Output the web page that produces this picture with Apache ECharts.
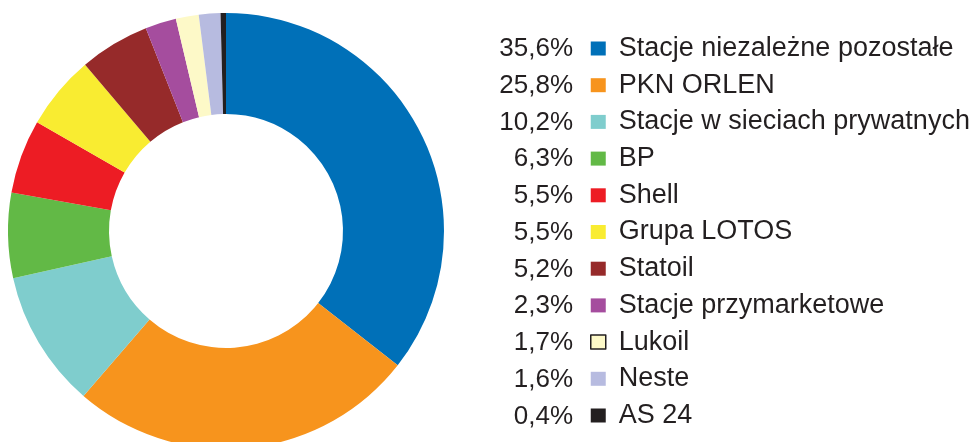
<!DOCTYPE html>
<html>
<head>
<meta charset="utf-8">
<script src="https://cdn.jsdelivr.net/npm/echarts@6/dist/echarts.min.js"></script>
<style>html,body{margin:0;padding:0;background:#fff}#c{width:976px;height:442px}</style>
</head>
<body>
<div id="c"></div>
<script>
const categories = ['Stacje niezależne pozostałe','PKN ORLEN','Stacje w sieciach prywatnych','BP','Shell','Grupa LOTOS','Statoil','Stacje przymarketowe','Lukoil','Neste','AS 24'];
const values = [35.6, 25.8, 10.2, 6.3, 5.5, 5.5, 5.2, 2.3, 1.7, 1.6, 0.4];
const colors = ['#0070b8','#f7941d','#7fcdcd','#62b946','#ed1c24','#f9ec31','#962a2a','#a54d9e','#fdf9c8','#b7bbe0','#231f20'];

const fmt = v => v.toFixed(1).replace('.', ',') + '%';
const pctByName = {};
categories.forEach((n, i) => { pctByName[n] = fmt(values[i]); });

const FONT = '"Liberation Sans", Arial, sans-serif';
const TXT = '#231f20';
const chart = echarts.init(document.getElementById('c'), null, {renderer: 'canvas'});
chart.setOption({
  animation: false,
  color: colors,
  legend: [
    {
      orient: 'vertical',
      left: 590,
      top: 35,
      padding: 0,
      icon: 'rect',
      itemWidth: 15,
      itemHeight: 14,
      itemGap: 9.7,
      selectedMode: false,
      textStyle: {fontFamily: FONT, fontSize: 27, color: TXT, lineHeight: 26, padding: [0, 0, 0, 8]},
      data: categories.map(n => n === 'Lukoil'
        ? {name: n, itemStyle: {borderColor: '#231f20', borderWidth: 1.5}}
        : {name: n})
    },
    {
      orient: 'vertical',
      left: 488,
      top: 36,
      padding: 0,
      icon: 'rect',
      itemWidth: 0,
      itemHeight: 0,
      itemGap: 10.75,
      selectedMode: false,
      formatter: n => '{p|' + pctByName[n] + '}',
      textStyle: {
        fontFamily: FONT, fontSize: 26, color: TXT, lineHeight: 26,
        rich: {p: {width: 80, align: 'right', fontFamily: FONT, fontSize: 26, color: TXT, lineHeight: 26}}
      },
      data: categories
    }
  ],
  series: [{
    type: 'pie',
    radius: [117, 218],
    center: [226, 231],
    startAngle: 90,
    clockwise: true,
    avoidLabelOverlap: false,
    label: {show: false},
    labelLine: {show: false},
    emphasis: {disabled: true},
    itemStyle: {borderWidth: 0},
    data: categories.map((n, i) => ({name: n, value: values[i]}))
  }]
});
</script>
</body>
</html>
